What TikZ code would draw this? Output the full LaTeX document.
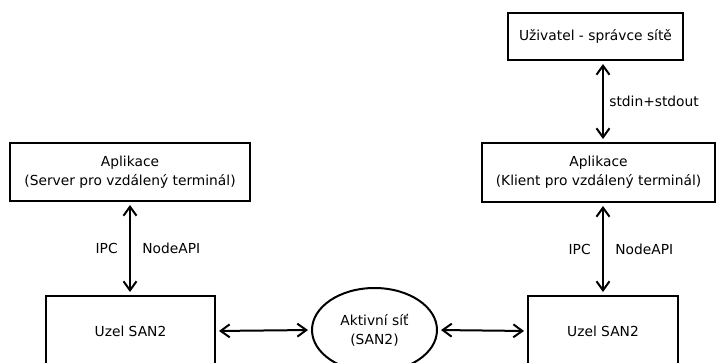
\documentclass[tikz,border=0pt]{standalone}
\usepackage{fontspec}
\setmainfont{DejaVu Sans}
\usetikzlibrary{positioning,calc,arrows.meta,shapes.geometric}

\begin{document}
\begin{tikzpicture}[x=1pt,y=-1pt,
    pismo/.style={font=\fontsize{13.8}{19}\selectfont},
    blok/.style={draw,line width=2pt,align=center,inner sep=0pt,pismo},
    spoj/.style={{Straight Barb[length=9pt,width=13pt]}-{Straight Barb[length=9pt,width=13pt]},
                 line width=2pt,shorten <=3pt,shorten >=3pt}]
    % rozmer obrazku
    \useasboundingbox (0,0) rectangle (717,363);
    \clip (0,0) rectangle (717,363);
    % uzivatel a aplikace
    \node[blok,minimum width=175,minimum height=47] (user) at (595.5,36.5) {Uživatel - správce sítě};
    \node[blok,minimum width=233,minimum height=59] (appK) at (598.5,172.5) {Aplikace\\(Klient pro vzdálený terminál)};
    \node[blok,minimum width=240,minimum height=58] (appS) at (130,172) {Aplikace\\(Server pro vzdálený terminál)};
    % uzly SAN2
    \node[blok,minimum width=169,minimum height=70] (uzelS) at (130.5,331) {Uzel SAN2};
    \node[blok,minimum width=150,minimum height=70] (uzelK) at (603,331) {Uzel SAN2};
    % aktivni sit
    \node[blok,ellipse,minimum width=125,minimum height=84] (sit) at (374.5,330) {Aktivní síť\\(SAN2)};
    % spoje
    \draw[spoj] (user.south -| uzelK.north) -- (appK.north -| uzelK.north)
        node[midway,right=2pt,pismo] {stdin+stdout};
    \draw[spoj] (appK.south -| uzelK.north) -- (uzelK.north)
        node[midway,left=8pt,pismo] {IPC} node[midway,right=8pt,pismo] {NodeAPI};
    \draw[spoj] (appS.south) -- (appS.south |- uzelS.north)
        node[midway,left=8pt,pismo] {IPC} node[midway,right=8pt,pismo] {NodeAPI};
    \draw[spoj] (uzelS.east) -- (sit.west);
    \draw[spoj] (sit.east) -- (uzelK.west);
\end{tikzpicture}
\end{document}
